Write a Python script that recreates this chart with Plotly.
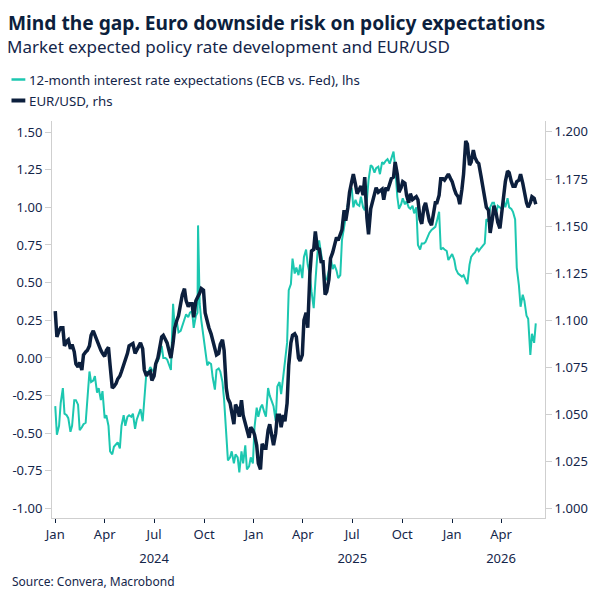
import pandas as pd
import plotly.graph_objects as go

# ---------------- data (twice-weekly readings) ----------------
mon_start = "2024-01-01"   # Monday readings, every 7 days
thu_start = "2024-01-04"   # Thursday readings, every 7 days
n_mon = 127
n_thu = 126
last_date = "2026-06-04"

# 12-month interest rate expectations (ECB vs. Fed), lhs  (Mondays + last day)
rate_gap_mon = [
    -0.32, -0.45, -0.20, -0.38, -0.49, -0.28, -0.31, -0.46, -0.43, -0.09,
    -0.15, -0.23, -0.28, -0.40, -0.45, -0.64, -0.57, -0.60, -0.38, -0.39,
    -0.39, -0.47, -0.37, -0.42, -0.09, -0.06, -0.09, -0.02, 0.08, 0.00,
    -0.06, 0.36, 0.24, 0.18, 0.26, 0.27, 0.31, 0.28, 0.36, 0.13,
    -0.05, -0.04, -0.21, -0.07, -0.16, -0.55, -0.66, -0.70, -0.66, -0.62,
    -0.58, -0.72, -0.70, -0.33, -0.33, -0.36, -0.20, -0.29, -0.42, -0.16,
    -0.12, 0.10, 0.49, 0.56, 0.55, 0.53, 0.72, 0.55, 0.33, 0.70,
    0.68, 0.52, 0.58, 0.59, 0.58, 0.55, 0.87, 1.01, 1.13, 1.05,
    1.01, 1.00, 1.05, 1.28, 1.23, 1.27, 1.30, 1.31, 1.29, 1.37,
    1.07, 1.02, 1.02, 1.00, 1.01, 1.00, 0.72, 0.76, 0.81, 0.85,
    0.87, 0.97, 0.73, 0.71, 0.67, 0.65, 0.56, 0.54, 0.52, 0.62,
    0.69, 0.73, 0.73, 0.76, 0.91, 1.03, 0.96, 1.00, 1.04, 1.06,
    0.99, 0.92, 0.48, 0.42, 0.28, 0.02, 0.10, 0.23,
]
# Thursdays
rate_gap_thu = [
    -0.51, -0.30, -0.37, -0.40, -0.45, -0.28, -0.48, -0.44, -0.30, -0.16,
    -0.12, -0.20, -0.22, -0.38, -0.62, -0.59, -0.56, -0.45, -0.45, -0.38,
    -0.37, -0.41, -0.34, -0.30, -0.10, -0.08, -0.04, 0.01, 0.00, -0.01,
    -0.08, 0.20, 0.17, 0.21, 0.29, 0.30, 0.20, 0.30, 0.25, 0.03,
    -0.03, -0.13, -0.08, -0.09, -0.28, -0.68, -0.62, -0.64, -0.76, -0.70,
    -0.74, -0.66, -0.46, -0.39, -0.31, -0.39, -0.25, -0.32, -0.19, -0.24,
    -0.02, 0.45, 0.66, 0.60, 0.62, 0.67, 0.62, 0.44, 0.50, 0.78,
    0.62, 0.52, 0.67, 0.62, 0.53, 0.78, 0.95, 1.09, 1.00, 1.02,
    1.07, 0.98, 1.18, 1.27, 1.26, 1.22, 1.29, 1.32, 1.32, 1.27,
    0.99, 1.06, 1.04, 0.99, 0.96, 0.75, 0.76, 0.77, 0.83, 0.86,
    0.91, 0.72, 0.72, 0.65, 0.69, 0.59, 0.55, 0.55, 0.49, 0.67,
    0.70, 0.71, 0.74, 0.92, 1.00, 1.03, 1.01, 0.99, 1.00, 1.00,
    0.97, 0.60, 0.34, 0.38, 0.26, 0.16,
]
# one-day spike in the rate series
spike_date = "2024-09-20"
spike_value = 0.88

# EUR/USD, rhs  (Mondays + last day)
eurusd_mon = [
    1.1048, 1.0944, 1.0960, 1.0888, 1.0848, 1.0832, 1.0752, 1.0736, 1.0832, 1.0864,
    1.0944, 1.0896, 1.0840, 1.0808, 1.0856, 1.0640, 1.0664, 1.0704, 1.0760, 1.0824,
    1.0872, 1.0824, 1.0864, 1.0848, 1.0704, 1.0728, 1.0704, 1.0800, 1.0912, 1.0896,
    1.0832, 1.0880, 1.1000, 1.1088, 1.1168, 1.1072, 1.1088, 1.1104, 1.1144, 1.1160,
    1.0984, 1.0928, 1.0856, 1.0824, 1.0896, 1.0640, 1.0560, 1.0448, 1.0528, 1.0576,
    1.0456, 1.0376, 1.0416, 1.0336, 1.0208, 1.0320, 1.0416, 1.0384, 1.0400, 1.0496,
    1.0496, 1.0560, 1.0880, 1.0928, 1.0800, 1.0816, 1.1040, 1.1248, 1.1376, 1.1376,
    1.1304, 1.1136, 1.1216, 1.1360, 1.1440, 1.1456, 1.1584, 1.1600, 1.1736, 1.1720,
    1.1696, 1.1664, 1.1544, 1.1592, 1.1672, 1.1680, 1.1696, 1.1704, 1.1728, 1.1760,
    1.1776, 1.1704, 1.1728, 1.1624, 1.1640, 1.1656, 1.1536, 1.1600, 1.1568, 1.1504,
    1.1624, 1.1664, 1.1752, 1.1760, 1.1752, 1.1696, 1.1656, 1.1696, 1.1952, 1.1824,
    1.1904, 1.1840, 1.1768, 1.1640, 1.1584, 1.1536, 1.1568, 1.1488, 1.1688, 1.1792,
    1.1736, 1.1712, 1.1744, 1.1728, 1.1624, 1.1624, 1.1648, 1.1616,
]
# Thursdays
eurusd_thu = [
    1.0912, 1.0960, 1.0864, 1.0896, 1.0872, 1.0768, 1.0776, 1.0816, 1.0840, 1.0920,
    1.0920, 1.0864, 1.0824, 1.0840, 1.0760, 1.0648, 1.0688, 1.0728, 1.0784, 1.0864,
    1.0876, 1.0840, 1.0880, 1.0736, 1.0720, 1.0680, 1.0768, 1.0840, 1.0920, 1.0880,
    1.0800, 1.0960, 1.1024, 1.1136, 1.1104, 1.1088, 1.1016, 1.1120, 1.1168, 1.1040,
    1.0960, 1.0888, 1.0816, 1.0872, 1.0840, 1.0584, 1.0520, 1.0552, 1.0488, 1.0496,
    1.0416, 1.0432, 1.0392, 1.0240, 1.0344, 1.0320, 1.0448, 1.0336, 1.0496, 1.0432,
    1.0464, 1.0760, 1.0920, 1.0912, 1.0784, 1.1000, 1.0960, 1.1368, 1.1472, 1.1384,
    1.1320, 1.1152, 1.1328, 1.1400, 1.1424, 1.1480, 1.1528, 1.1680, 1.1776, 1.1672,
    1.1712, 1.1760, 1.1456, 1.1632, 1.1704, 1.1688, 1.1640, 1.1688, 1.1752, 1.1840,
    1.1680, 1.1736, 1.1664, 1.1672, 1.1648, 1.1640, 1.1512, 1.1624, 1.1528, 1.1560,
    1.1624, 1.1752, 1.1744, 1.1776, 1.1736, 1.1672, 1.1616, 1.1776, 1.1936, 1.1840,
    1.1864, 1.1832, 1.1720, 1.1600, 1.1464, 1.1608, 1.1520, 1.1568, 1.1736, 1.1784,
    1.1712, 1.1736, 1.1776, 1.1672, 1.1600, 1.1656,
]

x_tick_dates = ["2024-01-01", "2024-04-01", "2024-07-01", "2024-10-01",
                "2025-01-01", "2025-04-01", "2025-07-01", "2025-10-01",
                "2026-01-01", "2026-04-01"]
x_tick_text = ["Jan", "Apr", "Jul", "Oct", "Jan", "Apr", "Jul", "Oct", "Jan", "Apr"]
year_tick_dates = ["2024-07-01", "2025-07-01", "2026-04-01"]
year_tick_text = ["2024", "2025", "2026"]

lhs_ticks = [-1.0, -0.75, -0.5, -0.25, 0.0, 0.25, 0.5, 0.75, 1.0, 1.25, 1.5]
lhs_tick_text = ["-1.00", "-0.75", "-0.50", "-0.25", "0.00", "0.25", "0.50",
                 "0.75", "1.00", "1.25", "1.50"]
rhs_ticks = [1.000, 1.025, 1.050, 1.075, 1.100, 1.125, 1.150, 1.175, 1.200]

# ---------------- build ----------------
mon_dates = list(pd.date_range(mon_start, periods=n_mon, freq="7D")) + [pd.Timestamp(last_date)]
thu_dates = list(pd.date_range(thu_start, periods=n_thu, freq="7D"))

rate_df = pd.concat([
    pd.DataFrame({"date": mon_dates, "v": rate_gap_mon}),
    pd.DataFrame({"date": thu_dates, "v": rate_gap_thu}),
    pd.DataFrame({"date": [pd.Timestamp(spike_date)], "v": [spike_value]}),
]).sort_values("date")
fx_df = pd.concat([
    pd.DataFrame({"date": mon_dates, "v": eurusd_mon}),
    pd.DataFrame({"date": thu_dates, "v": eurusd_thu}),
]).sort_values("date")

TEAL = "#1cc7b0"
NAVY = "#0c1f3d"
TXT = "#14264a"
GRID = "#cfcfcf"
FONT = "Noto Sans"

W, H = 600, 600
ML, MR, MT, MB = 49, 52, 121, 82
PW, PH = W - ML - MR, H - MT - MB


def px(xp):
    return (xp - ML) / PW


def py(yp):
    return (H - MB - yp) / PH


fig = go.Figure()
fig.add_trace(go.Scatter(x=rate_df["date"], y=rate_df["v"], mode="lines",
                         line=dict(color=TEAL, width=2),
                         name="12-month interest rate expectations (ECB vs. Fed), lhs",
                         yaxis="y"))
fig.add_trace(go.Scatter(x=fx_df["date"], y=fx_df["v"], mode="lines",
                         line=dict(color=NAVY, width=3.5), name="EUR/USD, rhs",
                         yaxis="y2"))

x_range = ["2023-12-26", "2026-06-21"]

fig.update_layout(
    width=W, height=H,
    margin=dict(l=ML, r=MR, t=MT, b=MB),
    paper_bgcolor="white", plot_bgcolor="white",
    showlegend=False,
    font=dict(family=FONT, color=TXT, size=13),
    title=dict(text="<b>Mind the gap. Euro downside risk on policy expectations</b>",
               x=8 / W, xref="container", xanchor="left",
               y=1 - 23 / H, yref="container", yanchor="middle",
               font=dict(family=FONT, size=19.2, color=NAVY)),
    xaxis=dict(type="date", range=x_range, tickvals=x_tick_dates, ticktext=x_tick_text,
               showgrid=False, zeroline=False, showline=True, linecolor=GRID, linewidth=1,
               ticks="outside", ticklen=4, tickcolor=NAVY, tickfont=dict(size=13, color=TXT)),
    xaxis2=dict(type="date", range=x_range, overlaying="x", side="bottom", anchor="y",
                tickvals=year_tick_dates, ticktext=year_tick_text,
                showgrid=False, zeroline=False, showline=False, ticks="",
                ticklabelstandoff=31, tickfont=dict(size=13, color=TXT)),
    yaxis=dict(range=[-1.0625, 1.573], tickvals=lhs_ticks, ticktext=lhs_tick_text,
               showgrid=False, zeroline=False, showline=True, linecolor=GRID, linewidth=1,
               ticks="outside", ticklen=6, tickcolor=GRID, tickfont=dict(size=13, color=TXT)),
    yaxis2=dict(range=[0.995, 1.2058], tickvals=rhs_ticks, tickformat=".3f",
                overlaying="y", side="right",
                showgrid=False, zeroline=False, showline=True, linecolor=GRID, linewidth=1,
                ticks="outside", ticklen=6, tickcolor=GRID, tickfont=dict(size=13, color=TXT)),
)

# invisible anchor so the year axis is drawn
fig.add_trace(go.Scatter(x=[mon_dates[0]], y=[None], xaxis="x2", yaxis="y", mode="lines",
                         showlegend=False, hoverinfo="skip"))

annots = [
    dict(text="Market expected policy rate development and EUR/USD", x=px(1), y=py(47), size=17),
    dict(text="12-month interest rate expectations (ECB vs. Fed), lhs", x=px(24), y=py(80), size=13.3),
    dict(text="EUR/USD, rhs", x=px(24), y=py(101), size=13.3),
    dict(text="Source: Convera, Macrobond", x=px(6), y=py(581), size=12),
]
for a in annots:
    fig.add_annotation(text=a["text"], x=a["x"], y=a["y"], xref="paper", yref="paper",
                       xanchor="left", yanchor="middle", showarrow=False,
                       font=dict(family=FONT, size=a["size"], color=TXT))

fig.add_shape(type="line", xref="paper", yref="paper", x0=px(8), x1=px(22), y0=py(79.5), y1=py(79.5),
              line=dict(color=TEAL, width=2.5))
fig.add_shape(type="line", xref="paper", yref="paper", x0=px(8), x1=px(22), y0=py(100.5), y1=py(100.5),
              line=dict(color=NAVY, width=4))

fig.write_html("out.html")
